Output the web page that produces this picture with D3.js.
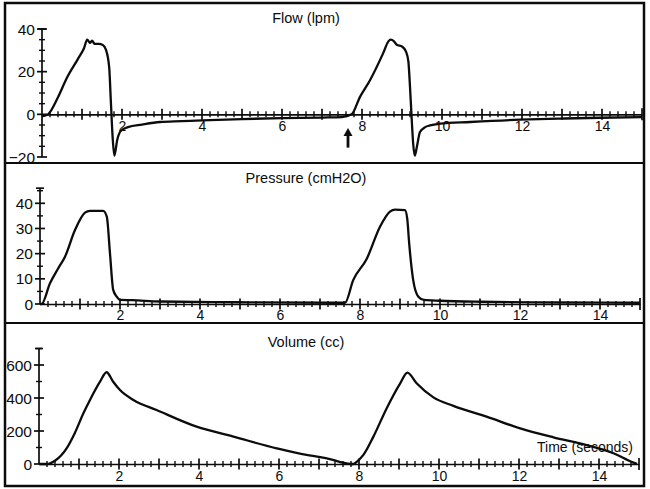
<!DOCTYPE html>
<html><head><meta charset="utf-8">
<script src="https://cdn.jsdelivr.net/npm/d3@7"></script>
<style>
body{margin:0;background:#fff;}
svg{display:block;font-family:"Liberation Sans",Arial,Helvetica,sans-serif;}
</style></head>
<body>
<svg id="c" width="650" height="489"></svg>
<script>
// ---- data ----
const flowT = [0,0.15,0.4,0.62,0.9,1.05,1.13,1.2,1.25,1.32,1.42,1.52,1.6,1.68,1.72,1.77,1.81,1.88,1.98,2.15,2.5,2.95,3.5,4.0,5.0,6.0,7.0,7.5,7.74,7.95,8.2,8.53,8.66,8.72,8.8,8.87,9.0,9.1,9.16,9.2,9.24,9.28,9.32,9.37,9.45,9.58,9.7,9.95,10.7,11.95,12.95,13.95,15];
const flowV = [-1,0,8,17,26,31,35,33.5,34.5,33,33,32.5,30.2,22,6.6,-12,-19.4,-12,-7.6,-6,-4.8,-3.6,-3.2,-2.8,-2.2,-1.8,-1.5,-1.3,0,8.2,16,28.7,34.2,35,34.2,32.6,31.8,29.4,24.7,12.9,-1.3,-13.9,-19.4,-15.4,-8.3,-6,-5.2,-4.4,-3.6,-2.5,-2,-1.6,-1.3];
const pressT = [0,0.04,0.25,0.45,0.625,0.875,1.125,1.25,1.58,1.67,1.75,1.83,1.92,2.0,2.3,3.0,5.0,7.4,7.625,7.83,8.17,8.5,8.75,8.875,9.125,9.18,9.23,9.33,9.46,9.6,10.0,11.0,13.0,15];
const pressV = [0,0,8.2,14,18.8,29.4,36.3,37,37,34.7,20,5.6,2.9,1.6,1.5,1.0,0.7,0.5,0.5,9.5,18,30.7,36.7,37.5,37.3,34,24,9.5,2.9,1.6,1.3,0.9,0.6,0.5];
const volT = [0,0.2,0.4,0.69,0.9,1.11,1.3,1.525,1.69,1.85,2.025,2.36,2.94,3.94,4.86,5.94,6.69,7.03,7.27,7.53,7.86,7.95,8.11,8.36,8.69,9.03,9.21,9.44,9.86,10.36,11.19,12.03,12.86,13.69,14.36,14.86,14.95];
const volV = [0,0,20,95,190,307,400,499,556,500,448,388,327,226,166,95,55,42,30,12,0,15,55,166,337,489,554,489,404,352,287,216,162,115,65,8,0];

const xTickLabels = [2,4,6,8,10,12,14];
const flowYTicks = [-20,0,20,40];
const pressYTicks = [0,10,20,30,40];
const volYTicks = [0,200,400,600];
const titles = ["Flow (lpm)","Pressure (cmH2O)","Volume (cc)"];
const xAxisTitle = "Time (seconds)";

// ---- drawing ----
const svg = d3.select("#c");
const ink = "#0c0c0c";

const panels = [
  {title:titles[0], T:flowT, V:flowV, yDom:[-20,40], yRange:[157,29], axisTop:40, minor:5, yTicks:flowYTicks, x0:42, x1:642, titleY:23, labY:131},
  {title:titles[1], T:pressT, V:pressV, yDom:[0,40], yRange:[304,203.3], axisTop:46, minor:5, yTicks:pressYTicks, x0:40, x1:640, titleY:183, labY:320},
  {title:titles[2], T:volT, V:volV, yDom:[0,600], yRange:[464,365], axisTop:700, minor:100, yTicks:volYTicks, x0:39, x1:639, titleY:347, labY:481}
];

panels.forEach((p,i)=>{
  const x = d3.scaleLinear().domain([0,15]).range([p.x0,p.x1]);
  const y = d3.scaleLinear().domain(p.yDom).range(p.yRange);
  const g = svg.append("g");
  const y0 = y(0);

  const xa = g.append("g").attr("transform",`translate(0,${y0})`)
    .call(d3.axisBottom(x).tickValues(xTickLabels).tickSize(0).tickFormat(d3.format("d")));
  xa.select(".domain").attr("stroke",ink).attr("stroke-width",1.7);
  xa.selectAll("text").attr("fill",ink).style("font-size","14px").attr("dy",null).attr("y",p.labY - y0);

  const minorX = d3.range(1,75).map(k=>k/5).filter(v=>Math.abs(v-Math.round(v))>1e-6);
  const majorX = d3.range(1,15);
  g.selectAll(".xm").data(minorX).join("line")
    .attr("x1",d=>x(d)).attr("x2",d=>x(d)).attr("y1",y0-3).attr("y2",y0+3)
    .attr("stroke",ink).attr("stroke-width",1.4);
  g.selectAll(".xM").data(majorX).join("line")
    .attr("x1",d=>x(d)).attr("x2",d=>x(d)).attr("y1",y0-5.5).attr("y2",y0+5.5)
    .attr("stroke",ink).attr("stroke-width",1.7);
  g.append("line").attr("x1",x(15)).attr("x2",x(15)).attr("y1",y0-6).attr("y2",y0+6)
    .attr("stroke",ink).attr("stroke-width",1.7);

  const yMin = p.yDom[0];
  g.append("line").attr("x1",x(0)).attr("x2",x(0)).attr("y1",y(yMin)).attr("y2",y(p.axisTop))
    .attr("stroke",ink).attr("stroke-width",1.7);
  g.append("line").attr("x1",x(0)-4).attr("x2",x(0)+4).attr("y1",y(p.axisTop)).attr("y2",y(p.axisTop))
    .attr("stroke",ink).attr("stroke-width",1.7);
  const minorY = d3.range(yMin, p.axisTop+1e-6, p.minor).filter(v=>p.yTicks.indexOf(v)<0);
  g.selectAll(".ym").data(minorY).join("line")
    .attr("x1",x(0)-3).attr("x2",x(0)+3).attr("y1",d=>y(d)).attr("y2",d=>y(d))
    .attr("stroke",ink).attr("stroke-width",1.4);
  g.selectAll(".yM").data(p.yTicks).join("line")
    .attr("x1",x(0)-5).attr("x2",x(0)+5).attr("y1",d=>y(d)).attr("y2",d=>y(d))
    .attr("stroke",ink).attr("stroke-width",1.7);
  g.selectAll(".yl").data(p.yTicks).join("text")
    .attr("x",x(0)-7).attr("y",d=>y(d)).attr("dy","0.36em")
    .attr("text-anchor","end").attr("fill",ink).style("font-size","15.5px")
    .text(d=>d<0 ? "\u2212"+Math.abs(d) : d);

  g.append("text").attr("x",306).attr("y",p.titleY).attr("text-anchor","middle")
    .attr("fill",ink).style("font-size","14.5px").text(p.title);

  const pts = p.T.map((t,k)=>[t,p.V[k]]);
  g.append("path").datum(pts)
    .attr("d",d3.line().curve(d3.curveMonotoneX).x(d=>x(d[0])).y(d=>y(d[1])))
    .attr("fill","none").attr("stroke",ink).attr("stroke-width",2.3).attr("stroke-linejoin","round");

  p.x = x; p.y = y;
});

{
  const p = panels[0];
  const ax = p.x(7.65), yTail = p.y(-15.6), yTip = p.y(-6.4);
  svg.append("line").attr("x1",ax).attr("x2",ax).attr("y1",yTail).attr("y2",yTip+6)
    .attr("stroke",ink).attr("stroke-width",2.8);
  svg.append("path").attr("d",`M${ax},${yTip} L${ax-4.5},${yTip+8} L${ax+4.5},${yTip+8} Z`).attr("fill",ink);
}

svg.append("text").attr("x",633).attr("y",452).attr("text-anchor","end")
  .attr("fill",ink).style("font-size","14px").text(xAxisTitle);

svg.append("rect").attr("x",5).attr("y",3).attr("width",639).attr("height",483)
  .attr("fill","none").attr("stroke",ink).attr("stroke-width",2.5);
[163,323].forEach(yy=>svg.append("line").attr("x1",5).attr("x2",644).attr("y1",yy).attr("y2",yy)
  .attr("stroke",ink).attr("stroke-width",2.2));
</script>
</body></html>
